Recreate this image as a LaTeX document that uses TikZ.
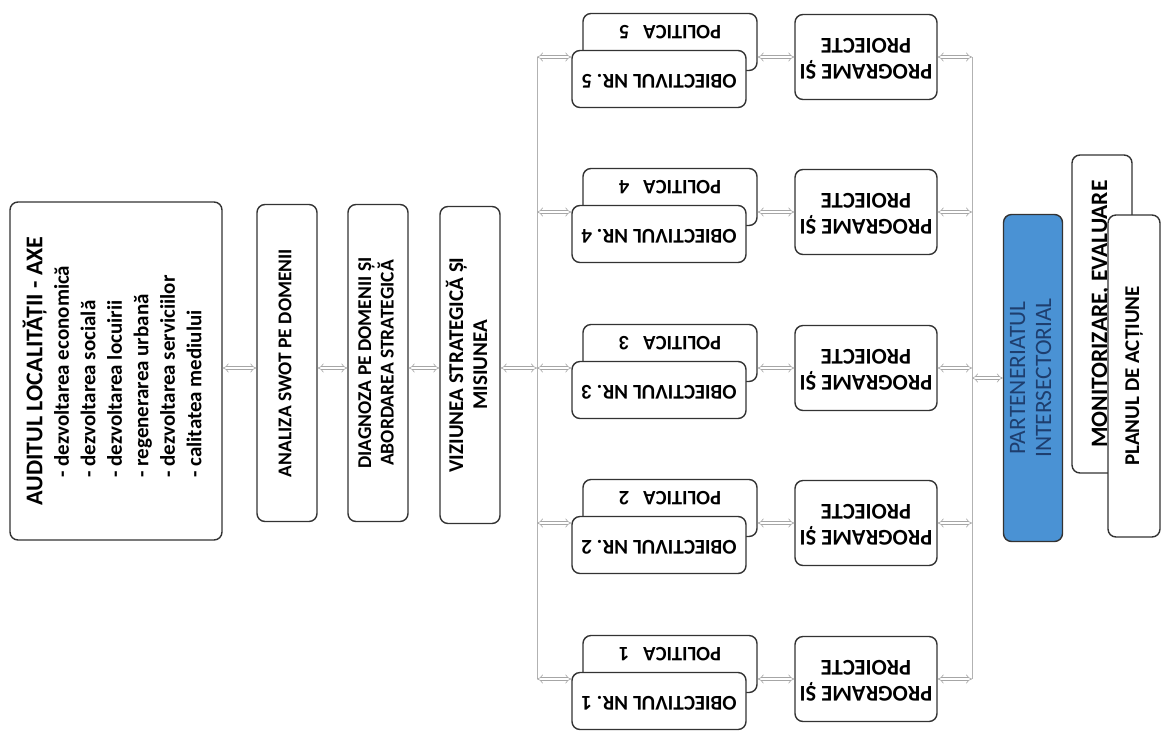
\documentclass[tikz,border=0pt]{standalone}
\usepackage{fontspec}
\setmainfont{Carlito}
\usepackage{graphicx}
\usetikzlibrary{arrows.meta}

\newcommand{\uptext}[1]{\rotatebox{90}{\begin{tabular}{@{}c@{}}#1\end{tabular}}}
\newcommand{\fliptext}[1]{\rotatebox[origin=c]{180}{\begin{tabular}{@{}c@{}}#1\end{tabular}}}

\begin{document}
\begin{tikzpicture}[x=1pt,y=-1pt,
    box/.style={draw=black!80, line width=1.4pt, rounded corners=8pt, fill=white, inner sep=0pt, align=center},
    tall/.style={box, minimum width=60, minimum height=317, font=\fontsize{19.5}{22}\selectfont\bfseries},
    obj/.style={box, minimum width=174, minimum height=57, font=\fontsize{21}{25}\selectfont\bfseries},
    pol/.style={obj, text height=0pt, text depth=13pt, font=\fontsize{20.5}{23}\selectfont\bfseries},
    prog/.style={box, minimum width=142, minimum height=85, font=\fontsize{22.5}{26}\selectfont\bfseries},
    link/.style={draw=black!30, line width=0.8pt},
    arrw/.style={draw=black!35, line width=0.6pt, double=white, double distance=2.6pt, {Implies[scale=1.2]}-{Implies[scale=1.2]}}]
      \useasboundingbox[fill=white] (0,0) rectangle (1162,740);

      \node[box, minimum width=212, minimum height=338, font=\fontsize{21}{26.5}\selectfont\bfseries] (audit) at (116,371)
        {\rotatebox{90}{\begin{tabular}{@{}l@{}}{\fontsize{24}{26}\selectfont AUDITUL LOCALITĂȚII - AXE}\\
         \hspace{28pt}- dezvoltarea economică\\
         \hspace{28pt}- dezvoltarea socială\\
         \hspace{28pt}- dezvoltarea locuirii\\
         \hspace{28pt}- regenerarea urbană\\
         \hspace{28pt}- dezvoltarea serviciilor\\
         \hspace{28pt}- calitatea mediului\end{tabular}}};
      \node[tall] (swot) at (287,363) {\uptext{ANALIZA SWOT PE DOMENII}};
      \node[tall] (diag) at (378,363) {\uptext{DIAGNOZA PE DOMENII ȘI\\ABORDAREA STRATEGICĂ}};
      \node[tall, font=\fontsize{21}{24}\selectfont\bfseries] (viz) at (470,365) {\uptext{VIZIUNEA STRATEGICĂ ȘI\\MISIUNEA}};

      \coordinate (l5) at (537,57);
      \coordinate (l4) at (537,212);
      \coordinate (l3) at (537,368);
      \coordinate (l2) at (537,523);
      \coordinate (l1) at (537,679);
      \coordinate (r5) at (972,57);
      \coordinate (r4) at (972,212);
      \coordinate (r3) at (972,368);
      \coordinate (r2) at (972,523);
      \coordinate (r1) at (972,679);

      \draw[arrw] (audit.east |- l3) -- (swot.west |- l3);
      \draw[arrw] (swot.east |- l3) -- (diag.west |- l3);
      \draw[arrw] (diag.east |- l3) -- (viz.west |- l3);
      \draw[arrw] (viz.east |- l3) -- (l3);
      \draw[link] (l5) -- (l1);
      \draw[link] (r5) -- (r1);

      \node[pol] (pol5) at (670,42) {\fliptext{POLITICA\hspace{14pt}5\hspace{30pt}}};
      \node[obj] (ob5) at (659,79) {\fliptext{OBIECTIVUL NR. 5}};
      \node[prog] (prog5) at (866,57) {\fliptext{PROGRAME ȘI\\PROIECTE}};
      \node[pol] (pol4) at (670,197) {\fliptext{POLITICA\hspace{14pt}4\hspace{30pt}}};
      \node[obj] (ob4) at (659,234) {\fliptext{OBIECTIVUL NR. 4}};
      \node[prog] (prog4) at (866,212) {\fliptext{PROGRAME ȘI\\PROIECTE}};
      \node[pol] (pol3) at (670,353) {\fliptext{POLITICA\hspace{14pt}3\hspace{30pt}}};
      \node[obj] (ob3) at (659,390) {\fliptext{OBIECTIVUL NR. 3}};
      \node[prog] (prog3) at (866,368) {\fliptext{PROGRAME ȘI\\PROIECTE}};
      \node[pol] (pol2) at (670,508) {\fliptext{POLITICA\hspace{14pt}2\hspace{30pt}}};
      \node[obj] (ob2) at (659,545) {\fliptext{OBIECTIVUL NR. 2}};
      \node[prog] (prog2) at (866,523) {\fliptext{PROGRAME ȘI\\PROIECTE}};
      \node[pol] (pol1) at (670,664) {\fliptext{POLITICA\hspace{14pt}1\hspace{30pt}}};
      \node[obj] (ob1) at (659,701) {\fliptext{OBIECTIVUL NR. 1}};
      \node[prog] (prog1) at (866,679) {\fliptext{PROGRAME ȘI\\PROIECTE}};

      \draw[arrw] (l5) -- (l5 -| ob5.west);
      \draw[arrw] (pol5.east |- prog5.west) -- (prog5.west);
      \draw[arrw] (prog5.east) -- (r5);
      \draw[arrw] (l4) -- (l4 -| ob4.west);
      \draw[arrw] (pol4.east |- prog4.west) -- (prog4.west);
      \draw[arrw] (prog4.east) -- (r4);
      \draw[arrw] (l3) -- (l3 -| ob3.west);
      \draw[arrw] (pol3.east |- prog3.west) -- (prog3.west);
      \draw[arrw] (prog3.east) -- (r3);
      \draw[arrw] (l2) -- (l2 -| ob2.west);
      \draw[arrw] (pol2.east |- prog2.west) -- (prog2.west);
      \draw[arrw] (prog2.east) -- (r2);
      \draw[arrw] (l1) -- (l1 -| ob1.west);
      \draw[arrw] (pol1.east |- prog1.west) -- (prog1.west);
      \draw[arrw] (prog1.east) -- (r1);

      \node[box, minimum width=59, minimum height=327, fill={rgb,255:red,74;green,146;blue,212},
        text={rgb,255:red,30;green,62;blue,110}, font=\fontsize{23.5}{26}\selectfont] (part) at (1033,378)
        {\uptext{PARTENERIATUL\\INTERSECTORIAL}};
      \node[box, minimum width=60, minimum height=318, font=\fontsize{23.5}{26}\selectfont\bfseries] (mon) at (1102,314)
        {\uptext{MONITORIZARE, EVALUARE}};
      \node[box, minimum width=52, minimum height=322, font=\fontsize{21}{25}\selectfont\bfseries] (plan) at (1134,376)
        {\uptext{PLANUL DE ACȚIUNE}};
      \draw[arrw] (part.west -| r3) -- (part.west);
\end{tikzpicture}
\end{document}
